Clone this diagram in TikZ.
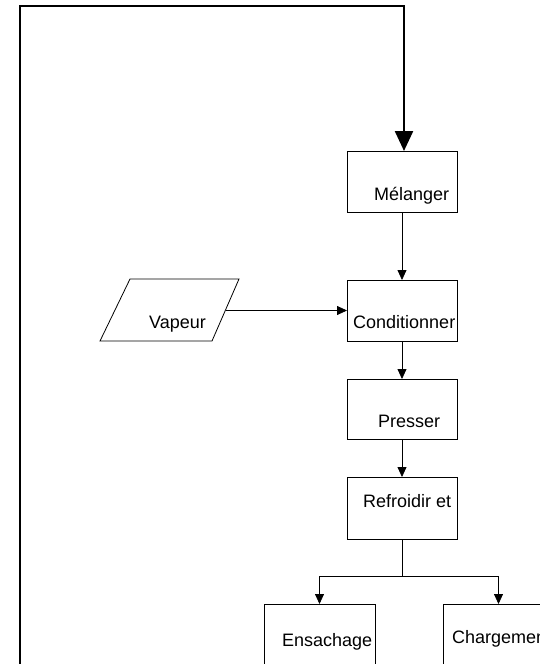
\documentclass[tikz,border=0pt]{standalone}
\usepackage{fontspec}
\setmainfont{Liberation Sans}
\usetikzlibrary{arrows.meta}
\tikzset{
    stepbox/.style={draw, line width=0.8pt, minimum width=110pt, minimum height=61pt, inner sep=0pt, outer sep=0pt},
    txt/.style={anchor=base west, inner sep=0pt, font=\fontsize{18}{21}\selectfont},
    flow/.style={line width=0.8pt, -{Triangle[length=10pt,width=9pt]}},
    back/.style={line width=2.4pt, -{Triangle[length=20pt,width=18pt]}}
}
\begin{document}
\begin{tikzpicture}[x=1pt, y=-1pt]
        \useasboundingbox (0,0) rectangle (540,664);
        \clip (0,0) rectangle (540,664);
        % Boxes
        \node[stepbox] (mel) at (402,181.5) {};
        \node[stepbox] (cond) at (402,310.5) {};
        \node[stepbox, minimum height=60pt] (pres) at (402,409) {};
        \node[stepbox, minimum height=62pt] (refr) at (402,508) {};
        \node[stepbox, minimum width=111pt] (ensa) at (319.5,634.5) {};
        \node[stepbox, minimum width=111pt] (charg) at (498.5,634.5) {};
        % Vapeur input
        \draw[line width=0.8pt] (100,341) -- (130,279) -- (239,279) -- (212,341) -- cycle;
        \coordinate (vap) at (225.5,310.5);
        % Labels in boxes
        \node[txt] (t-mel) at (374,200) {Mélanger};
        \node[txt] (t-cond) at (353,328) {Conditionner};
        \node[txt] (t-vap) at (149,328) {Vapeur};
        \node[txt] (t-pres) at (378,427) {Presser};
        \node[txt] (t-refr) at (363,507) {Refroidir et};
        \node[txt] (t-ensa) at (282,646) {Ensachage};
        \node[txt] (t-charg) at (452,643) {Chargement};
        % Flow
        \draw[flow] (mel) -- (cond);
        \draw[flow] (vap) -- (cond.west |- vap);
        \draw[flow] (cond) -- (pres);
        \draw[flow] (pres) -- (refr);
        \coordinate (split) at (402,576);
        \draw[line width=0.8pt] (refr.south) -- (split);
        \draw[flow] (split) -| (ensa.north);
        \draw[flow] (split) -| (charg.north);
        % Return line
        \coordinate (ret) at (20,670);
        \draw[back] (ret) -- (20,6) -| ([xshift=2pt]mel.north);
    \end{tikzpicture}
\end{document}
